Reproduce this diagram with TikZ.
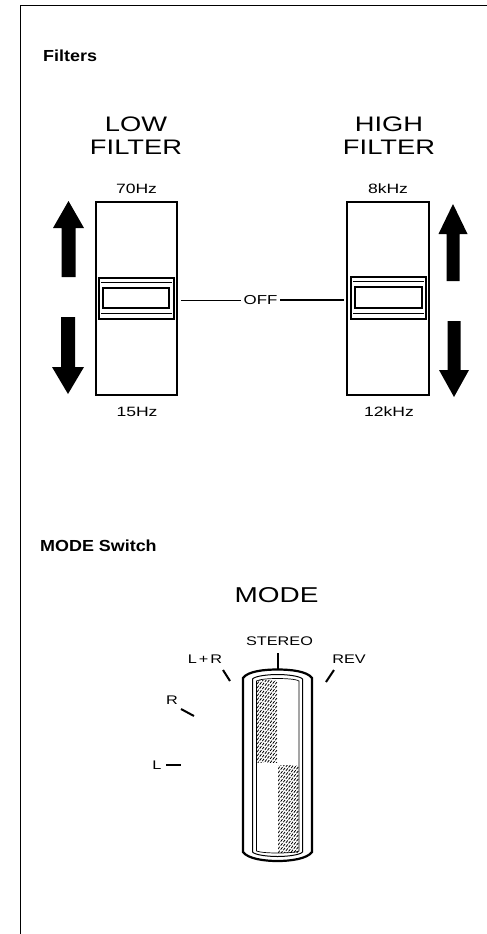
\documentclass[tikz,border=0pt]{standalone}
\usepackage{fontspec}
\setmainfont{Liberation Sans}
\newfontfamily\widefont[FakeStretch=1.3]{Liberation Sans}
\newfontfamily\headfont[FakeStretch=1.12]{Liberation Sans}
\newcommand\filtarrowup[6]{% cx, tip, base, end, shaft half, head half
  \fill (#1,#2) -- (#1+#6,#3) -- (#1+#5,#3) -- (#1+#5,#4) -- (#1-#5,#4) -- (#1-#5,#3) -- (#1-#6,#3) -- cycle;}
\begin{document}
\begin{tikzpicture}[x=1pt,y=-1pt,
  head/.style={font=\headfont\bfseries\fontsize{16}{18}\selectfont, inner sep=0pt, anchor=west},
  bigtitle/.style={font=\widefont\fontsize{21}{23}\selectfont, align=center, inner sep=0pt},
  small/.style={font=\widefont\fontsize{13.5}{15}\selectfont, inner sep=0pt},
  modelabel/.style={font=\widefont\fontsize{12.5}{14}\selectfont, inner sep=0pt},
  sliderbox/.style={draw, line width=1.6pt, minimum width=81pt, minimum height=193pt, inner sep=0pt},
  knob/.style={draw, line width=1.8pt},
  thinline/.style={line width=0.8pt},
  tick/.style={line width=2pt},
  hatch/.style={line width=0.8pt, dash pattern=on 3pt off 1.3pt}]
\useasboundingbox (0,0) rectangle (487,934);
% page border
\draw[line width=0.9pt] (20,934) -- (20,5) -- (487,5);

% ---------- Filters ----------
\node[head] (filters) at (43,56) {Filters};

\node[bigtitle] (lowtitle) at (136,136) {LOW\\FILTER};
\node[bigtitle] (hightitle) at (389,136) {HIGH\\FILTER};

\node[small] (l70) at (136.5,188.5) {70Hz};
\node[small] (h8) at (388,188.5) {8kHz};
\node[small] (l15) at (137,411.5) {15Hz};
\node[small] (h12) at (389,411.5) {12kHz};

\node[sliderbox] (lbox) at (136.5,298.5) {};
\node[sliderbox, minimum width=82pt] (hbox) at (388,298.5) {};

% knobs
\draw[knob] (99,278) rectangle (174,319);
\draw[thinline] (101,282) -- (172,282);
\draw[line width=1.5pt] (103,288) rectangle (169,308);
\draw[thinline] (101,313) -- (172,313);

\draw[knob] (351,277) rectangle (426,319);
\draw[thinline] (353,281) -- (424,281);
\draw[line width=1.5pt] (355,287) rectangle (422,308);
\draw[thinline] (353,313) -- (424,313);

% OFF
\node[small, font=\widefont\fontsize{13}{15}\selectfont, inner sep=2pt] (off) at (260.5,300) {OFF};
\draw[line width=1pt, shorten <=3pt] (lbox.east |- off.west) -- (off.west);
\draw[line width=1.2pt, shorten <=2pt] (hbox.west |- off.east) -- (off.east);

% arrows
\filtarrowup{68.5}{201}{228}{277}{7}{15.5}
\filtarrowup{68}{394}{367}{317}{7}{16}
\filtarrowup{453}{204}{234}{281}{6.5}{14.5}
\filtarrowup{454}{397}{370}{321}{6.5}{15}

% ---------- MODE ----------
\node[head] (modesw) at (40,546) {MODE Switch};
\node[bigtitle, font=\widefont\fontsize{21.5}{23}\selectfont] (modetitle) at (276.5,595) {MODE};

\node[modelabel] (stereo) at (279.5,641) {STEREO};
\node[modelabel] (lr) at (205,659) {L\,+\,R};
\node[modelabel] (rev) at (349,659) {REV};
\node[modelabel] (rr) at (172,700.5) {R};
\node[modelabel] (ll) at (157,765) {L};

% switch body
\draw[line width=2.2pt] (243,852) -- (243,678)
  .. controls (248,671) and (265,669.5) .. (277.5,669.5)
  .. controls (290,669.5) and (307,671) .. (312,678) -- (312,852)
  .. controls (307,859) and (290,861) .. (277.5,861)
  .. controls (265,861) and (248,859) .. (243,852) -- cycle;
\draw[line width=1pt] (252.5,852) -- (252.5,679)
  .. controls (255,676) and (268,674.5) .. (277.5,674.5)
  .. controls (287,674.5) and (300,676) .. (302.5,679) -- (302.5,852)
  .. controls (300,855) and (287,856.5) .. (277.5,856.5)
  .. controls (268,856.5) and (255,855) .. (252.5,852) -- cycle;
\draw[line width=0.7pt] (256.5,851) -- (256.5,681)
  .. controls (260,679) and (270,678.5) .. (277.5,678.5)
  .. controls (285,678.5) and (296,679) .. (299,681) -- (299,851)
  .. controls (296,852.5) and (285,853) .. (277.5,853)
  .. controls (270,853) and (260,852.5) .. (256.5,851) -- cycle;

% hatching
\begin{scope}
  \clip (257,680) rectangle (277,762);
  \foreach \k in {680,684,...,800} \draw[hatch] (257,\k) -- (277,\k-26);
\end{scope}
\begin{scope}
  \clip (278,765) rectangle (298.5,852);
  \foreach \k in {765,769,...,890} \draw[hatch] (278,\k) -- (299,\k-27);
\end{scope}

% position ticks
\coordinate (stTop) at (277.5,653);
\draw[tick] (stTop) -- (277.5,670);
\coordinate (lrA) at (223,670);
\draw[tick] (lrA) -- (230,681);
\coordinate (revA) at (334,670);
\draw[tick] (revA) -- (326,682);
\coordinate (rA) at (181,709);
\draw[tick] (rA) -- (194,716);
\coordinate (lA) at (166,764.5);
\draw[tick] (lA) -- (181,764.5);
\end{tikzpicture}
\end{document}
